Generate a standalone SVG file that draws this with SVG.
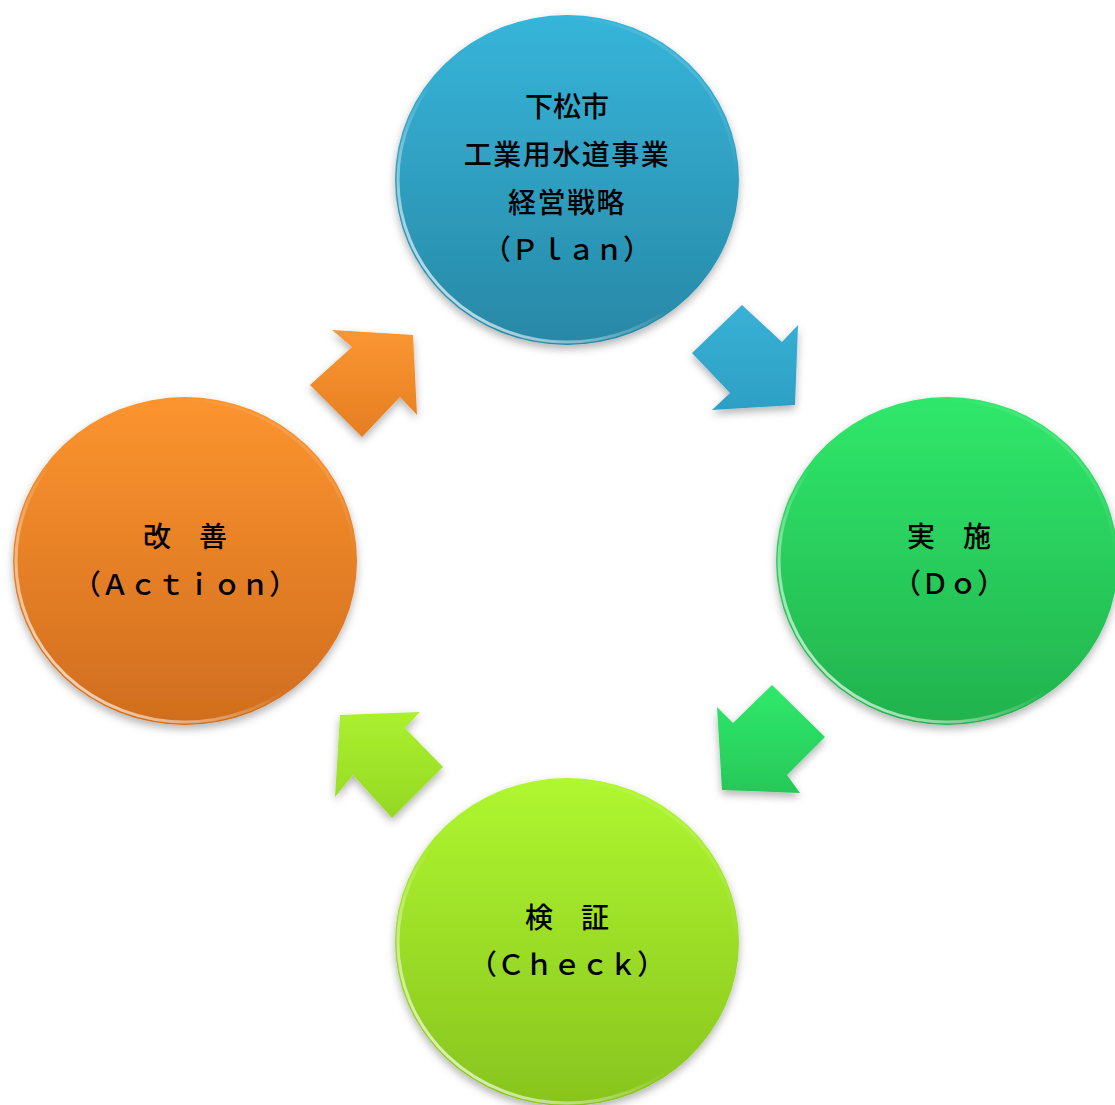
<svg xmlns="http://www.w3.org/2000/svg" width="1115" height="1105" viewBox="0 0 1115 1105">
<defs>
<style>
.lbl{font-family:"Noto Sans CJK JP","Noto Sans CJK SC",sans-serif;font-size:28px;font-weight:500;fill:#000;text-anchor:middle;}
.rim{fill:none;stroke:url(#rimG);stroke-width:3;}
</style>
<linearGradient id="gPlan" x1="0" y1="0" x2="0" y2="1"><stop offset="0" stop-color="#36b5da"/><stop offset="1" stop-color="#2888a6"/></linearGradient>
<linearGradient id="gDo" x1="0" y1="0" x2="0" y2="1"><stop offset="0" stop-color="#2fe86b"/><stop offset="1" stop-color="#22b24d"/></linearGradient>
<linearGradient id="gCheck" x1="0" y1="0" x2="0" y2="1"><stop offset="0" stop-color="#aff730"/><stop offset="1" stop-color="#88c41e"/></linearGradient>
<linearGradient id="gAct" x1="0" y1="0" x2="0" y2="1"><stop offset="0" stop-color="#fc942f"/><stop offset="1" stop-color="#d06d1e"/></linearGradient>
<linearGradient id="aPlan" x1="0" y1="0" x2="0" y2="1"><stop offset="0" stop-color="#39b1d6"/><stop offset="1" stop-color="#2d9fc4"/></linearGradient>
<linearGradient id="aDo" x1="0" y1="0" x2="0" y2="1"><stop offset="0" stop-color="#2fe96c"/><stop offset="1" stop-color="#27c858"/></linearGradient>
<linearGradient id="aCheck" x1="0" y1="0" x2="0" y2="1"><stop offset="0" stop-color="#abf02f"/><stop offset="1" stop-color="#95d824"/></linearGradient>
<linearGradient id="aAct" x1="0" y1="0" x2="0" y2="1"><stop offset="0" stop-color="#fb9632"/><stop offset="1" stop-color="#e47e22"/></linearGradient>
<linearGradient id="rimG" x1="0" y1="1" x2="1" y2="0"><stop offset="0" stop-color="#fff" stop-opacity="0.95"/><stop offset="0.3" stop-color="#fff" stop-opacity="0.35"/><stop offset="0.45" stop-color="#fff" stop-opacity="0"/><stop offset="0.75" stop-color="#fff" stop-opacity="0"/><stop offset="1" stop-color="#fff" stop-opacity="0.3"/></linearGradient>
<filter id="sh" x="-20%" y="-20%" width="140%" height="140%"><feDropShadow dx="0" dy="4" stdDeviation="4" flood-color="#000" flood-opacity="0.3"/></filter>
</defs>
<rect width="1115" height="1105" fill="#fff"/>
<g id="connectors" filter="url(#sh)">
<polygon id="arrow-plan-do" points="742,305 782,342 798,325 795,405 712,410 730,393 692,353" fill="url(#aPlan)"/>
<polygon id="arrow-do-check" points="772,685 825,737 787,775 800,793 722,790 717,707 733,723" fill="url(#aDo)"/>
<polygon id="arrow-check-act" points="340,715 420,712 405,728 443,767 392,818 353,775 335,797" fill="url(#aCheck)"/>
<polygon id="arrow-act-plan" points="332,330 413,335 417,415 400,397 362,437 310,385 352,347" fill="url(#aAct)"/>
</g>
<g id="node-plan">
<ellipse cx="567" cy="180" rx="172" ry="165" fill="url(#gPlan)" filter="url(#sh)"/>
<ellipse class="rim" cx="567" cy="180" rx="169" ry="162"/>
<text class="lbl" x="567" y="117">下松市</text>
<text class="lbl" x="567" y="165" letter-spacing="1.5">工業用水道事業</text>
<text class="lbl" x="567" y="213" letter-spacing="1.5">経営戦略</text>
<text class="lbl" x="567" y="260">（Ｐｌａｎ）</text>
</g>
<g id="node-do">
<ellipse cx="947" cy="561" rx="171" ry="164" fill="url(#gDo)" filter="url(#sh)"/>
<ellipse class="rim" cx="947" cy="561" rx="168" ry="161"/>
<text class="lbl" x="949" y="547">実　施</text>
<text class="lbl" x="949" y="594">（Ｄｏ）</text>
</g>
<g id="node-check">
<ellipse cx="567" cy="942" rx="172" ry="164" fill="url(#gCheck)" filter="url(#sh)"/>
<ellipse class="rim" cx="567" cy="942" rx="169" ry="161"/>
<text class="lbl" x="567" y="928">検　証</text>
<text class="lbl" x="567" y="975">（Ｃｈｅｃｋ）</text>
</g>
<g id="node-action">
<ellipse cx="185" cy="561" rx="172" ry="164" fill="url(#gAct)" filter="url(#sh)"/>
<ellipse class="rim" cx="185" cy="561" rx="169" ry="161"/>
<text class="lbl" x="185" y="547">改　善</text>
<text class="lbl" x="185" y="595">（Ａｃｔｉｏｎ）</text>
</g>
</svg>
